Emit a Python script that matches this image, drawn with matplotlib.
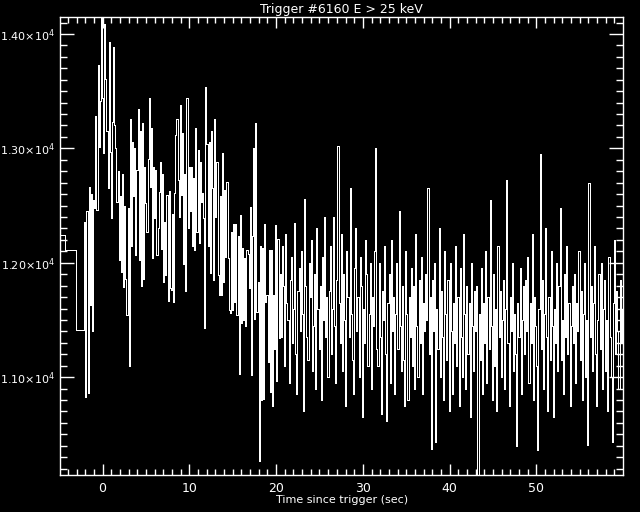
import numpy as np
import matplotlib
matplotlib.use('Agg')
import matplotlib.pyplot as plt
from matplotlib.ticker import MultipleLocator, FuncFormatter

# light curve, BATSE style: coarse bins before the trigger, fine bins after
coarse_start = [-5.33, -4.30, -3.05]
coarse_rate = [12240, 12110, 11410]

fine_start = -2.11
fine_dt = 0.128

# rates, in chunks of ~5.6 s
rate_a = [12360, 10830, 12450, 10860, 12660, 11630, 12600, 11400, 12550, 12480,
          13280, 12460, 13730, 13010, 13410, 14140, 13440, 12960, 14090, 13610,
          13150, 12650, 13930, 12970, 12390, 13230, 13890, 13200, 13000, 12530,
          12800, 12020, 12580, 11920, 12780, 11790, 12500, 11860, 11540, 12480,
          11100, 13260, 12150, 13060]
rate_b = [12580, 13000, 12070, 12810, 13340, 12020, 13150, 11800, 13220, 11860,
          12840, 12520, 12270, 12910, 13440, 12660, 13180, 12040, 12840, 12390,
          12810, 12070, 12300, 12620, 12880, 12120, 12780, 11830, 12360, 11890,
          12590, 11670, 12630, 11780, 11760, 12430, 11660, 12610, 13120, 13260,
          12720, 12400, 13380, 12590]
rate_c = [13130, 11990, 12780, 11750, 13440, 12300, 12840, 12450, 12840, 12150,
          12740, 12110, 13180, 12270, 12990, 12170, 12880, 12530, 12610, 12390,
          11430, 13540, 13040, 12150, 13060, 11910, 13150, 12650, 11850, 13260,
          12400, 12880, 11890, 11720, 12580, 11720, 12960, 11830, 12640, 12050,
          12710, 12040, 11590, 11560]
rate_d = [12270, 11590, 12340, 11660, 12340, 11540, 12230, 11030, 12420, 11470,
          12130, 11500, 12040, 11450, 12110, 12080, 11780, 12490, 11020, 12230,
          13000, 11510, 13220, 11570, 11830, 10270, 12150, 10800, 12130, 10810,
          12340, 11660, 11720, 11130, 12110, 10870, 12110, 10750, 11720, 11250,
          12330, 10970, 12210, 11340]
rate_e = [11900, 11350, 12150, 11800, 11100, 12250, 11650, 11500, 10950, 11850,
          12050, 11300, 11600, 12350, 11200, 10850, 11750, 11950, 11400, 12100,
          11550, 10700, 12560, 11800, 11350, 11150, 12000, 11700, 12200, 11050,
          11450, 11900, 10900, 12300, 11600, 11250, 11800, 10800, 12050, 11500,
          12400, 11350, 11700, 11000]
rate_f = [11750, 12150, 11200, 11600, 12400, 11450, 10950, 11850, 13020, 11650,
          11300, 12250, 11050, 11900, 11500, 10750, 12100, 11700, 11350, 12650,
          11550, 11150, 10850, 11950, 12300, 11400, 11700, 11000, 12050, 11800,
          10650, 11600, 11300, 12200, 11900, 11100, 11550, 12000, 10900, 11700,
          11450, 12100, 13000, 11250]
rate_g = [11100, 12000, 11350, 10680, 11750, 11500, 12150, 11200, 10620, 11650,
          11900, 10950, 12200, 11400, 11700, 10850, 11550, 12000, 11250, 12450,
          11450, 11050, 11800, 11150, 10750, 12100, 11550, 10800, 11700, 11350,
          11950, 11100, 11800, 10900, 12250, 11450, 11000, 11850, 11300, 12050,
          10850, 11650, 11400, 11900]
rate_h = [11500, 12650, 11200, 11700, 10370, 11850, 11400, 12000, 10430, 11600,
          11250, 12300, 11000, 11750, 11350, 10800, 12100, 11550, 11150, 11850,
          10700, 12000, 11400, 10850, 11650, 11300, 12150, 11100, 11700, 10750,
          11950, 11350, 11000, 12250, 11550, 10900, 11800, 11200, 11650, 10650,
          12000, 11450, 11050, 11750]
rate_i = [11400, 11800, 10100, 11550, 11150, 11950, 10850, 11650, 11300, 12100,
          10950, 11700, 11250, 12550, 11450, 10800, 11900, 11100, 11600, 10700,
          12150, 11350, 11750, 11000, 11500, 11850, 10900, 11600, 12720, 11300,
          10750, 11700, 11400, 12000, 11050, 11550, 11200, 10400, 11650, 11350,
          11950, 10850, 11500, 11800]
rate_j = [11200, 11850, 11400, 12050, 10950, 11650, 11300, 12250, 10800, 11700,
          11450, 11100, 10360, 11600, 12950, 11250, 11850, 10900, 11550, 12300,
          11350, 10700, 11700, 11150, 12100, 11450, 10650, 11600, 11300, 12000,
          11050, 11800, 12480, 11150, 11500, 10850, 11900, 11350, 12150, 11200,
          11650, 10750, 11450, 11800]
rate_k = [11300, 11900, 10950, 11650, 11400, 12100, 11150, 11750, 10800, 11550,
          12000, 11000, 11500, 10410, 12700, 11350, 11800, 11050, 11650, 12150,
          11200, 10750, 11500, 11900, 11250, 12000, 10900, 11600, 11850, 11050,
          11500, 10700, 12050, 11350, 11000, 10430, 11650, 12200, 11200, 11750,
          11400, 10900, 11850, 11300, 11600, 11150]

fine_rate = np.array(rate_a + rate_b + rate_c + rate_d + rate_e + rate_f +
                     rate_g + rate_h + rate_i + rate_j + rate_k, dtype=float)
fine_t = fine_start + fine_dt * np.arange(len(fine_rate))

t = np.concatenate([coarse_start, fine_t, [fine_t[-1] + fine_dt]])
r = np.concatenate([coarse_rate, fine_rate, [fine_rate[-1]]])

fig = plt.figure(figsize=(6.4, 5.12), dpi=100, facecolor='black')
ax = fig.add_axes([0.0945, 0.0723, 0.8785, 0.8951], facecolor='black')

ax.step(t, r, where='post', color='white', lw=0.72, antialiased=False)

ax.set_xlim(-4.85, 59.95)
ax.set_ylim(10145, 14151)

ax.xaxis.set_major_locator(MultipleLocator(10))
ax.xaxis.set_minor_locator(MultipleLocator(1))
ax.yaxis.set_major_locator(MultipleLocator(1000))
ax.yaxis.set_minor_locator(MultipleLocator(100))


def yfmt(v, pos):
    return '%.2f\u00d710$^{4}$' % (v / 1e4)


ax.yaxis.set_major_formatter(FuncFormatter(yfmt))

for s in ax.spines.values():
    s.set_color('white')
    s.set_linewidth(1.0)

ax.tick_params(which='both', direction='in', colors='white', top=True, right=True,
               labelsize=8, width=1.0)
ax.tick_params(axis='x', which='major', length=8, pad=5, labelsize=9)
ax.tick_params(axis='x', which='minor', length=4)
ax.tick_params(axis='y', which='major', length=10, pad=4)
ax.tick_params(axis='y', which='minor', length=5)

ax.set_title('Trigger #6160 E > 25 keV', color='white', fontsize=9, pad=3)
ax.set_xlabel('Time since trigger (sec)', color='white', fontsize=8, labelpad=0)
ax.set_ylabel('Counts/s', color='white', fontsize=8)
ax.yaxis.set_label_coords(-0.112, 0.5)

fig.savefig('out.png', dpi=100, facecolor='black')
